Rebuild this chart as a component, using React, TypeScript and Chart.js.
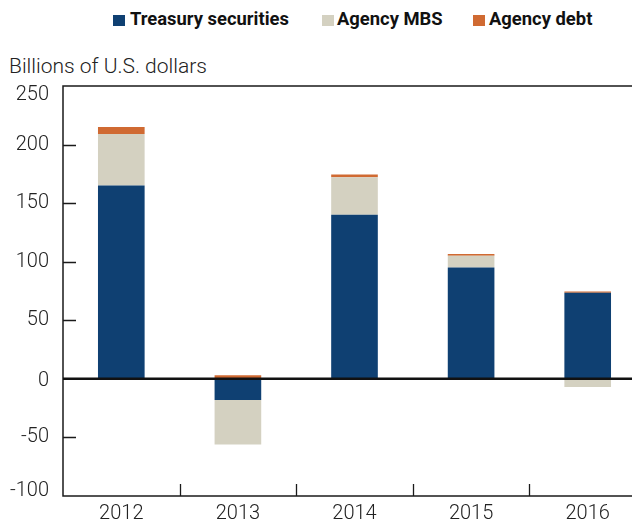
import React, { useEffect, useRef } from "react";
import { Chart, registerables } from "chart.js";

Chart.register(...registerables);

const categories = ["2012", "2013", "2014", "2015", "2016"];
const treasury = [165, -18, 140, 95, 73.5];
const agencyMBS = [44, -38, 32, 10, -7];
const agencyDebt = [6, 3, 2.5, 1.5, 1];
const yTicks = [-100, -50, 0, 50, 100, 150, 200, 250];

const seriesNames = ["Treasury securities", "Agency MBS", "Agency debt"];
const seriesColors = ["#0f4072", "#d4d1c1", "#d06a32"];

const legendBoxLefts = [113, 322, 473];
const legendTextLefts = [130, 337, 489];
const PLOT_OVERHANG = 6; // plot frame continues past the right edge of the picture

const extendPlugin = {
  id: "extendRight",
  afterLayout(chart: any) {
    const x = chart.scales.x;
    x.right = x.right + PLOT_OVERHANG;
    x.width = x.right - x.left;
    x.configure();
  },
};

const framePlugin = {
  id: "frame",
  afterDatasetsDraw(chart: any) {
    const { ctx, chartArea } = chart;
    const y = chart.scales.y;
    const x = chart.scales.x;
    const left = chartArea.left;
    const right = x.right;
    const top = chartArea.top;
    const bottom = chartArea.bottom;
    ctx.save();
    ctx.strokeStyle = "#1a1a1a";
    ctx.lineWidth = 1.5;
    ctx.strokeRect(left, top, right - left, bottom - top);
    ctx.lineWidth = 1.3;
    ctx.beginPath();
    for (const v of yTicks) {
      if (v === 0 || v === yTicks[0] || v === yTicks[yTicks.length - 1]) continue;
      const py = Math.round(y.getPixelForValue(v)) + 0.5;
      ctx.moveTo(left, py);
      ctx.lineTo(left + 13, py);
      ctx.moveTo(right - 13, py);
      ctx.lineTo(right, py);
    }
    for (let i = 0; i < categories.length - 1; i++) {
      const px = Math.round((x.getPixelForValue(i) + x.getPixelForValue(i + 1)) / 2) + 0.5;
      ctx.moveTo(px, bottom);
      ctx.lineTo(px, bottom - 12);
    }
    ctx.stroke();
    const zy = y.getPixelForValue(0);
    ctx.lineWidth = 2.5;
    ctx.strokeStyle = "#111";
    ctx.beginPath();
    ctx.moveTo(left, zy);
    ctx.lineTo(right, zy);
    ctx.stroke();
    ctx.restore();
  },
};

export default function App() {
  const ref = useRef<HTMLCanvasElement | null>(null);
  useEffect(() => {
    if (!ref.current) return;
    const chart = new Chart(ref.current, {
      type: "bar",
      data: {
        labels: categories,
        datasets: [
          { label: seriesNames[0], data: treasury, backgroundColor: seriesColors[0] },
          { label: seriesNames[1], data: agencyMBS, backgroundColor: seriesColors[1] },
          { label: seriesNames[2], data: agencyDebt, backgroundColor: seriesColors[2] },
        ],
      },
      options: {
        responsive: false,
        animation: false,
        layout: { padding: { top: 86, right: 0, bottom: 0, left: 0 } },
        datasets: { bar: { categoryPercentage: 1, barPercentage: 0.4 } },
        plugins: { legend: { display: false }, title: { display: false }, tooltip: { enabled: false } },
        scales: {
          x: {
            stacked: true,
            grid: { display: false, drawTicks: false },
            border: { display: false },
            ticks: { padding: 6, color: "#222", font: { family: "Roboto", size: 20, weight: "300" } },
            afterFit: (s: any) => { s.height = 31; s.paddingRight = 0; s.paddingLeft = 0; },
          },
          y: {
            stacked: true,
            min: -100,
            max: 250,
            afterBuildTicks: (s: any) => { s.ticks = yTicks.map((v) => ({ value: v })); },
            grid: { display: false, drawTicks: false },
            border: { display: false },
            ticks: {
              padding: 14,
              color: "#222",
              callback: (v: any) => {
                if (v === yTicks[yTicks.length - 1] || v === 0) return ["", String(v)];
                if (v === yTicks[0]) return [String(v), ""];
                return String(v);
              },
              font: (c: any) => {
                const v = c.tick ? c.tick.value : null;
                let lh = 1.2;
                if (v === yTicks[yTicks.length - 1]) lh = 0.85;
                if (v === 0) lh = 0.24;
                if (v === yTicks[0]) lh = 0.5;
                return { family: "Roboto", size: 20, weight: "300", lineHeight: lh };
              },
            },
            afterFit: (s: any) => { s.width = 63; },
          },
        },
      },
      plugins: [extendPlugin, framePlugin],
    });
    return () => chart.destroy();
  }, []);

  return (
    <div style={{ position: "relative", margin: -8, width: 640, height: 527, overflow: "hidden", fontFamily: "Roboto" }}>
      {seriesNames.map((n, i) => (
        <React.Fragment key={n}>
          <div style={{ position: "absolute", left: legendBoxLefts[i], top: 15, width: 12, height: 11, background: seriesColors[i] }} />
          <div style={{ position: "absolute", left: legendTextLefts[i], top: 10, fontSize: 18.4, lineHeight: "18px", fontWeight: 700, color: "#111", whiteSpace: "nowrap" }}>{n}</div>
        </React.Fragment>
      ))}
      <div style={{ position: "absolute", left: 9, top: 56, fontSize: 21, lineHeight: "21px", fontWeight: 300, color: "#222", whiteSpace: "nowrap" }}>
        Billions of U.S. dollars
      </div>
      <canvas ref={ref} width={640} height={527} style={{ position: "absolute", left: 0, top: 0 }} />
    </div>
  );
}
